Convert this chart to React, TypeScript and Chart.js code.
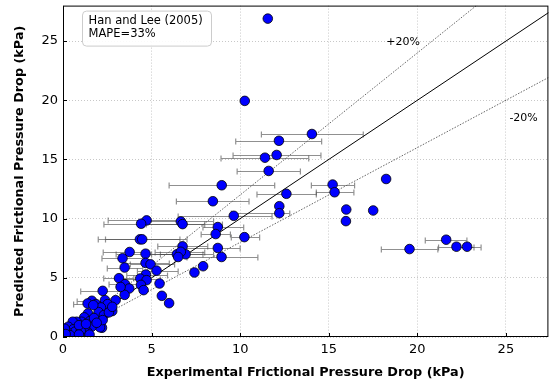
import React, { useEffect, useRef } from "react";
import { Chart, registerables } from "chart.js";

Chart.register(...registerables);

// Experimental (x) and predicted (y) frictional pressure drop, kPa
const expX = [
  11.56, 10.26, 14.05, 12.19, 12.06, 11.4, 11.61, 8.96, 15.22, 15.33,
  12.61, 18.24, 8.46, 9.64, 12.21, 12.21, 15.99, 17.51, 15.97, 10.24,
  21.63, 19.56, 22.21, 22.81, 4.72, 4.41, 6.65, 6.75, 8.74, 8.62,
  4.34, 4.47, 6.75, 8.74, 3.76, 4.66, 6.43, 6.92, 6.65, 6.5,
  8.95, 3.36, 4.66, 4.94, 7.91, 7.42, 5.28, 3.48, 3.16, 4.68,
  4.36, 4.72, 5.45, 3.5, 4.4, 3.74, 4.55, 5.58, 5.99, 3.48,
  2.97, 2.24, 2.37, 2.52, 3.25, 2.78, 2.2, 2.09, 1.63, 1.39,
  1.86, 2.14, 2.01, 2.31, 2.24, 1.41, 1.2, 1.05, 1.52, 1.62,
  1.37, 1.24, 0.77, 0.55, 0.3, 0.58, 0.68, 0.21, 1.0, 2.59,
  2.78, 1.71, 0.4, 0.1, 0.9, 1.3, 1.75, 1.9, 0.9, 1.5, 0.15,
];
const predY = [
  26.9, 19.95, 17.15, 16.58, 15.38, 15.15, 14.03, 12.82, 12.88, 12.23,
  12.1, 13.35, 11.47, 10.24, 11.05, 10.46, 10.77, 10.69, 9.79, 8.44,
  8.22, 7.43, 7.63, 7.63, 9.85, 9.57, 9.76, 9.54, 9.29, 8.7,
  8.25, 8.25, 7.66, 7.52, 7.18, 7.04, 6.99, 6.99, 7.2, 6.76,
  6.76, 6.65, 6.26, 6.14, 5.98, 5.45, 5.61, 5.87, 4.97, 5.28,
  4.94, 4.8, 4.52, 4.46, 4.4, 4.1, 3.96, 3.48, 2.86, 3.56,
  3.11, 3.9, 3.11, 2.78, 4.23, 2.19, 0.78, 0.82, 3.06, 2.83,
  2.78, 2.5, 2.1, 1.85, 1.43, 1.99, 1.66, 1.29, 1.35, 0.87,
  0.45, 0.87, 1.29, 1.29, 0.87, 0.65, 0.45, 0.45, 0.5, 2.08,
  2.55, 2.69, 0.15, 0.7, 1.0, 1.1, 1.6, 1.2, 0.2, 0.2, 0.25,
];
// Horizontal error bar limits on the experimental value (null = none)
const errLow = [
  null, null, 11.2, 9.75, 9.6, 8.92, 9.83, 5.99, 14.02, 14.3,
  10.95, null, 6.4, 6.5, null, 9.5, null, null, null, 9.5,
  20.45, 17.97, 21.2, 22.0, 2.55, 2.31, 4.5, 4.7, 7.9, 7.8,
  1.99, 2.4, 5.35, 6.6, 2.27, 3.0, 5.0, 5.5, 5.2, null,
  7.0, 2.2, 3.4, 3.8, null, null, 4.2, 2.5, 2.3, 3.6,
  3.3, null, null, 2.6, null, null, null, null, null, null,
  null, 1.0, null, null, null, null, null, null, 0.8, 0.6,
  null, null, null, null, null, null, null, null, null, null,
  null, null, null, null, null, null, null, null, null, null,
  null, null, null, null, null, null, null, null, null, null, null,
];
const errHigh = [
  null, null, 16.95, 14.6, 14.56, 13.87, 13.4, 11.95, 16.46, 16.42,
  14.3, null, 10.5, 11.8, null, 12.8, null, null, null, 11.1,
  22.8, 21.16, 23.2, 23.6, 6.7, 8.0, 8.5, 9.0, 10.2, 9.45,
  6.6, 7.0, 8.17, 10.0, 4.8, 6.5, 7.9, 8.5, 8.0, null,
  11.0, 4.5, 6.0, 6.3, null, null, 6.5, 4.5, 4.0, 5.9,
  5.5, null, null, 4.3, null, null, null, null, null, null,
  null, 3.4, null, null, null, null, null, null, 2.4, 2.0,
  null, null, null, null, null, null, null, null, null, null,
  null, null, null, null, null, null, null, null, null, null,
  null, null, null, null, null, null, null, null, null, null, null,
];

const xTicks = [0, 5, 10, 15, 20, 25];
const yTicks = [0, 5, 10, 15, 20, 25];
const xMax = 27.4;
const yMax = 28;
const refLineX = [0, 30];
const refFactors = [1, 1.2, 0.8];
const bandLabels = ["+20%", "-20%"];
const bandLabelX = [19.2, 26.0];
const bandLabelY = [24.9, 18.5];
const legendLines = ["Han and Lee (2005)", "MAPE=33%"];
const xTitle = "Experimental Frictional Pressure Drop (kPa)";
const yTitle = "Predicted Frictional Pressure Drop (kPa)";

const FONT = "'DejaVu Sans', sans-serif";

const errorBarPlugin = {
  id: "errorBars",
  beforeDatasetsDraw(chart: any) {
    const { ctx, chartArea } = chart;
    const xs = chart.scales.x;
    const ys = chart.scales.y;
    ctx.save();
    ctx.beginPath();
    ctx.rect(chartArea.left, chartArea.top, chartArea.width, chartArea.height);
    ctx.clip();
    ctx.strokeStyle = "rgba(70,70,70,0.6)";
    ctx.lineWidth = 1.2;
    for (let i = 0; i < expX.length; i++) {
      const lo = errLow[i];
      const hi = errHigh[i];
      if (lo == null || hi == null) continue;
      const py = Math.round(ys.getPixelForValue(predY[i])) + 0.5;
      const x1 = xs.getPixelForValue(lo);
      const x2 = xs.getPixelForValue(hi);
      ctx.beginPath();
      ctx.moveTo(x1, py);
      ctx.lineTo(x2, py);
      ctx.moveTo(x1, py - 3);
      ctx.lineTo(x1, py + 3);
      ctx.moveTo(x2, py - 3);
      ctx.lineTo(x2, py + 3);
      ctx.stroke();
    }
    ctx.restore();
  },
};

const framePlugin = {
  id: "frame",
  afterDraw(chart: any) {
    const { ctx, chartArea } = chart;
    const xs = chart.scales.x;
    const ys = chart.scales.y;
    const { left, right, top, bottom } = chartArea;
    ctx.save();
    ctx.strokeStyle = "#000";
    ctx.lineWidth = 1;
    ctx.strokeRect(left + 0.5, top + 0.5, right - left - 1, bottom - top - 1);
    ctx.beginPath();
    xTicks.forEach((v) => {
      const px = Math.round(xs.getPixelForValue(v)) + 0.5;
      ctx.moveTo(px, bottom);
      ctx.lineTo(px, bottom - 4);
    });
    yTicks.forEach((v) => {
      const py = Math.round(ys.getPixelForValue(v)) + 0.5;
      ctx.moveTo(left, py);
      ctx.lineTo(left + 4, py);
    });
    ctx.stroke();

    // band labels
    ctx.fillStyle = "#000";
    ctx.font = `11px ${FONT}`;
    ctx.textAlign = "center";
    ctx.textBaseline = "middle";
    bandLabels.forEach((t, i) => {
      ctx.fillText(t, xs.getPixelForValue(bandLabelX[i]), ys.getPixelForValue(bandLabelY[i]));
    });

    // legend box
    const bx = left + 19.5;
    const by = top + 5.5;
    const bw = 129;
    const bh = 35;
    const r = 4;
    ctx.beginPath();
    ctx.moveTo(bx + r, by);
    ctx.lineTo(bx + bw - r, by);
    ctx.quadraticCurveTo(bx + bw, by, bx + bw, by + r);
    ctx.lineTo(bx + bw, by + bh - r);
    ctx.quadraticCurveTo(bx + bw, by + bh, bx + bw - r, by + bh);
    ctx.lineTo(bx + r, by + bh);
    ctx.quadraticCurveTo(bx, by + bh, bx, by + bh - r);
    ctx.lineTo(bx, by + r);
    ctx.quadraticCurveTo(bx, by, bx + r, by);
    ctx.closePath();
    ctx.fillStyle = "rgba(255,255,255,0.9)";
    ctx.fill();
    ctx.strokeStyle = "#cccccc";
    ctx.stroke();
    ctx.fillStyle = "#000";
    ctx.textAlign = "left";
    ctx.font = `11.5px ${FONT}`;
    legendLines.forEach((t, i) => {
      ctx.fillText(t, bx + 6, by + 10 + i * 13);
    });
    ctx.restore();
  },
};

const zeroPad = (s: any) => {
  s.paddingTop = 0;
  s.paddingBottom = 0;
  s.paddingLeft = 0;
  s.paddingRight = 0;
};

export default function App() {
  const ref = useRef<HTMLCanvasElement | null>(null);
  useEffect(() => {
    if (!ref.current) return;
    const points = expX.map((x, i) => ({ x, y: predY[i] }));
    const refSets = refFactors.map((f, k) => ({
      type: "line" as const,
      data: refLineX.map((x) => ({ x, y: x * f })),
      borderColor: k === 0 ? "#000" : "#555",
      borderWidth: k === 0 ? 1 : 0.9,
      borderDash: k === 0 ? [] : [1.5, 1.5],
      pointRadius: 0,
      showLine: true,
      fill: false,
      order: 2,
    }));
    const chart = new Chart(ref.current, {
      type: "scatter",
      data: {
        datasets: [
          {
            data: points,
            backgroundColor: "#0000ff",
            borderColor: "#000",
            borderWidth: 0.8,
            pointRadius: 4.8,
            order: 0,
          } as any,
          ...(refSets as any[]),
        ],
      },
      options: {
        animation: false,
        responsive: true,
        maintainAspectRatio: false,
        layout: { padding: { top: 5, right: 0, left: 0, bottom: 0 } },
        plugins: { legend: { display: false }, tooltip: { enabled: false } },
        scales: {
          x: {
            type: "linear",
            min: 0,
            max: xMax,
            afterFit: (s: any) => {
              s.height = 46;
              zeroPad(s);
            },
            afterBuildTicks: (s: any) => {
              s.ticks = xTicks.map((v) => ({ value: v }));
            },
            ticks: {
              font: { family: FONT, size: 13 },
              color: "#000",
              padding: 5,
              maxRotation: 0,
            },
            grid: {
              color: "#c8c8c8",
              lineWidth: 1,
              drawTicks: false,
            },
            border: { display: false, dash: [1, 2] },
            title: {
              display: true,
              text: xTitle,
              font: { family: FONT, size: 12.8, weight: "bold" },
              color: "#000",
              padding: { top: 0, bottom: 3 },
            },
          },
          y: {
            type: "linear",
            min: 0,
            max: yMax,
            afterFit: (s: any) => {
              s.width = 63;
              zeroPad(s);
            },
            afterBuildTicks: (s: any) => {
              s.ticks = yTicks.map((v) => ({ value: v }));
            },
            ticks: {
              font: { family: FONT, size: 13 },
              color: "#000",
              padding: 5,
            },
            grid: {
              color: "#c8c8c8",
              lineWidth: 1,
              drawTicks: false,
            },
            border: { display: false, dash: [1, 2] },
            title: {
              display: true,
              text: yTitle,
              font: { family: FONT, size: 12.8, weight: "bold" },
              color: "#000",
              padding: { top: 12, bottom: 0 },
            },
          },
        },
      },
      plugins: [errorBarPlugin, framePlugin],
    });
    return () => chart.destroy();
  }, []);
  return (
    <div style={{ position: "fixed", left: 0, top: 0, width: 554, height: 383, background: "#fff" }}>
      <canvas ref={ref} />
    </div>
  );
}
